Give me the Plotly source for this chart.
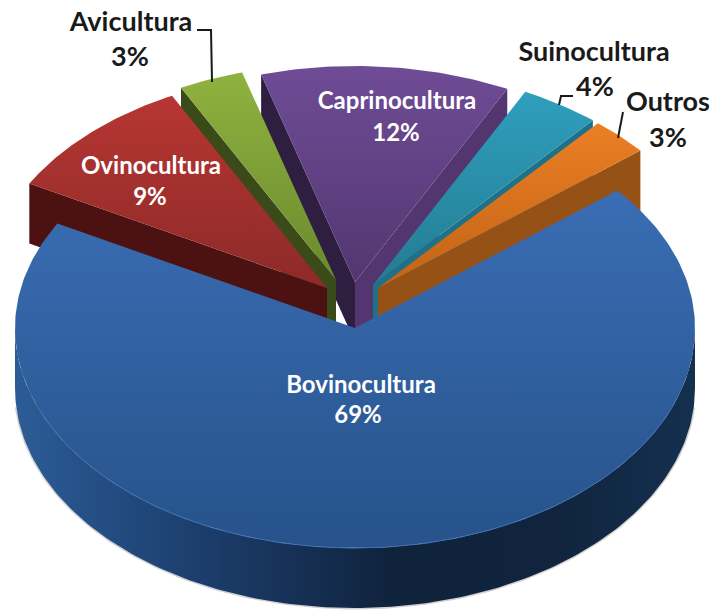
#!/usr/bin/env python3
"""3D exploded pie of livestock activities, drawn on a pixel-sized cartesian plot."""
import math

import plotly.graph_objects as go

# Data, counter-clockwise from the left-hand edge of the big slice
names = ["Bovinocultura", "Ovinocultura", "Avicultura", "Caprinocultura", "Suinocultura", "Outros"]
values = [69, 9, 3, 12, 4, 3]

# Per-slice look
top_colors = {
    "Bovinocultura": ("#3A6DB4", "#27528A"),
    "Ovinocultura": ("#B73633", "#8C2A28"),
    "Avicultura": ("#8FB23F", "#6B8A2D"),
    "Caprinocultura": ("#6F4C96", "#533670"),
    "Suinocultura": ("#2F9FBD", "#237C92"),
    "Outros": ("#EB7F24", "#C26316"),
}
wall_colors = {
    "Ovinocultura": {"end": "#4C1212"},
    "Avicultura": {"end": "#3A4A18"},
    "Caprinocultura": {"start": "#533670", "end": "#2E1E40"},
    "Suinocultura": {"start": "#1F7187"},
    "Outros": {"start": "#955116"},
}
# Where each slice's tip ends up after being pulled out of the pie (pixels)
tips = {
    "Bovinocultura": (355, 328),
    "Ovinocultura": (327, 288),
    "Avicultura": (336, 280),
    "Caprinocultura": (355, 282),
    "Suinocultura": (373, 285),
    "Outros": (378, 288),
}
# Label anchors: (name x, name y, percent x, percent y)
label_pos = {
    "Bovinocultura": (361, 387, 358, 417),
    "Ovinocultura": (151, 168, 150, 199),
    "Avicultura": (131, 24, 130, 59),
    "Caprinocultura": (397, 103, 396, 135),
    "Suinocultura": (594, 54, 595, 89),
    "Outros": (668, 104, 668, 140),
}
label_color = {
    "Bovinocultura": "white",
    "Ovinocultura": "white",
    "Caprinocultura": "white",
    "Avicultura": "#1A1A1A",
    "Suinocultura": "#1A1A1A",
    "Outros": "#1A1A1A",
}
label_size = {
    "Bovinocultura": 24,
    "Ovinocultura": 24,
    "Caprinocultura": 24,
    "Avicultura": 27,
    "Suinocultura": 27,
    "Outros": 27,
}
leaders = [
    ([197, 211, 212], [30, 30, 82]),
    ([573, 561, 559], [96, 96, 105]),
    ([623, 618], [112, 138]),
]

WIDTH, HEIGHT = 715, 611
RX, RY_BACK, RY_FRONT = 340, 216, 220
DEPTH = 60
START_ANGLE = 39.5  # degrees, right edge of the slices behind the big one
BACK_SPAN = 111.6  # degrees taken by the five back slices
WARP = 2.0  # the tilted view squeezes the back slices a little to the right
FONT = "Lato"


def warp(deg):
    return deg - WARP * math.sin(math.pi * (deg - START_ANGLE) / BACK_SPAN)


def rim(tip, deg):
    rad = math.radians(deg)
    ry = RY_BACK if math.sin(rad) > 0 else RY_FRONT
    return tip[0] + RX * math.cos(rad), tip[1] - ry * math.sin(rad)


def arc(tip, a0, a1):
    n = max(int(abs(a1 - a0)), 2)
    return [rim(tip, a0 + (a1 - a0) * i / n) for i in range(n + 1)]


def gradient(kind, c0, c1):
    return dict(type=kind, colorscale=[[0, c1], [1, c0]])


def polygon(fig, pts, **kw):
    fig.add_trace(
        go.Scatter(
            x=[p[0] for p in pts] + [pts[0][0]],
            y=[p[1] for p in pts] + [pts[0][1]],
            mode="lines",
            fill="toself",
            hoverinfo="skip",
            showlegend=False,
            **kw,
        )
    )


def curve(fig, pts, **line):
    fig.add_trace(
        go.Scatter(
            x=[p[0] for p in pts], y=[p[1] for p in pts], mode="lines",
            hoverinfo="skip", showlegend=False, line=line,
        )
    )


# Slice angles from the values; the big slice wraps round the front
angles = {}
a = START_ANGLE
for name in ["Outros", "Suinocultura", "Caprinocultura", "Avicultura", "Ovinocultura"]:
    span = values[names.index(name)] * 3.6
    angles[name] = (warp(a), warp(a + span))
    a += span
angles["Bovinocultura"] = (a, START_ANGLE + 360)

fig = go.Figure()

# Back slices, painted far to near so they overlap as in a solid pie
for name in ["Caprinocultura", "Suinocultura", "Outros", "Avicultura", "Ovinocultura"]:
    tip = tips[name]
    a0, a1 = angles[name]
    walls = wall_colors[name]
    for side, deg in (("start", a0), ("end", a1)):
        if side in walls:
            cx, cy = rim(tip, deg)
            polygon(
                fig,
                [tip, (cx, cy), (cx, cy + DEPTH), (tip[0], tip[1] + DEPTH)],
                line=dict(width=0, color=walls[side]),
                fillcolor=walls[side],
            )
    c0, c1 = top_colors[name]
    polygon(
        fig,
        [tip] + arc(tip, a0, a1),
        line=dict(width=0, color=c0),
        fillgradient=gradient("vertical", c0, c1),
    )

for xs, ys in leaders:
    curve(fig, list(zip(xs, ys)), color="#1A1A1A", width=2)

# Big slice: soft shadow, front wall, top face, then the light rim
tip = tips["Bovinocultura"]
front = arc(tip, 180, 360)
bottom = [(x, y + DEPTH) for x, y in front]
curve(fig, bottom[5:-5], color="rgba(0,0,0,0.18)", width=3)
polygon(
    fig,
    front + bottom[::-1],
    line=dict(width=0, color="#10233D"),
    fillgradient=dict(
        type="horizontal",
        colorscale=[[0, "#2C5C97"], [0.25, "#1D4070"], [0.55, "#10233D"], [0.8, "#10243E"], [1, "#14304F"]],
    ),
)
a0, a1 = angles["Bovinocultura"]
c0, c1 = top_colors["Bovinocultura"]
polygon(
    fig,
    [tip] + arc(tip, a0, a1),
    line=dict(width=0, color=c0),
    fillgradient=gradient("vertical", c0, c1),
)
curve(fig, arc(tip, 200, 340), color="#3F72B5", width=1)

# Labels: name and percent sit on separate lines with their own spacing
for name, value in zip(names, values):
    x0, y0, x1, y1 = label_pos[name]
    fig.add_trace(
        go.Scatter(
            x=[x0, x1], y=[y0, y1], mode="text", text=[f"<b>{name}</b>", f"<b>{value}%</b>"],
            textposition="middle center", hoverinfo="skip", showlegend=False,
            textfont=dict(family=FONT, size=label_size[name], color=label_color[name]),
        )
    )

fig.update_layout(
    width=WIDTH,
    height=HEIGHT,
    margin=dict(l=0, r=0, t=0, b=0),
    paper_bgcolor="white",
    plot_bgcolor="white",
    showlegend=False,
)
fig.update_xaxes(range=[0, WIDTH], visible=False)
fig.update_yaxes(range=[HEIGHT, 0], visible=False)

fig.write_html(
    "out.html",
    config=dict(displayModeBar=False),
    post_script="document.body.style.margin='0';",
)
